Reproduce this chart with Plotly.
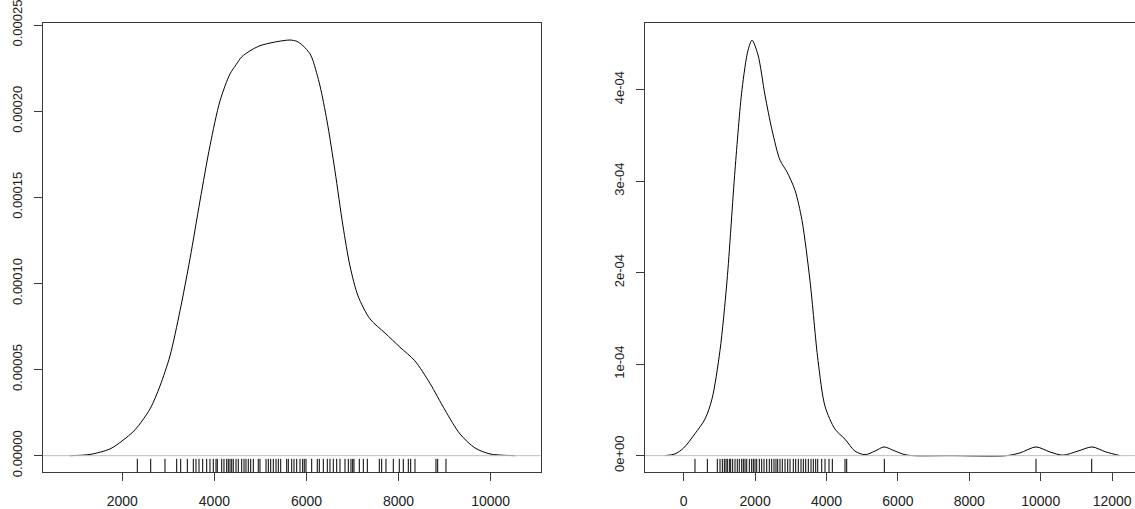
import plotly.graph_objects as go

# ---------------- data ----------------
# Left panel: density curve (x, density) and rug observations
left_x = [864, 1299, 1733, 1993, 2276, 2602, 2819, 3036, 3253, 3470, 3687, 3905, 4122,
          4339, 4469, 4593, 4773, 4990, 5272, 5489, 5641, 5793, 5924, 6076, 6141, 6293,
          6445, 6618, 6792, 6944, 7118, 7378, 7704, 8029, 8355, 8681, 9007, 9333, 9658,
          9984, 10527]
left_y = [0.0, 0.0000007, 0.0000039, 0.0000085, 0.0000150, 0.0000271, 0.0000405, 0.0000580,
          0.0000841, 0.0001143, 0.0001479, 0.000180, 0.000206, 0.0002216, 0.0002269,
          0.0002315, 0.000235, 0.000238, 0.0002399, 0.0002409, 0.0002413, 0.0002405,
          0.000238, 0.0002333, 0.0002293, 0.0002147, 0.0001944, 0.0001654, 0.0001334,
          0.0001102, 0.0000928, 0.0000794, 0.0000712, 0.0000630, 0.0000550, 0.0000420,
          0.0000265, 0.0000126, 0.0000045, 0.0000010, 0.0]
left_rug = [2326, 2617, 2927, 3181, 3268, 3412, 3542, 3600, 3666, 3746, 3833, 3904, 3976,
            4035, 4063, 4159, 4208, 4267, 4302, 4339, 4376, 4410, 4469, 4519, 4593, 4643,
            4686, 4736, 4788, 4845, 4953, 4990, 5121, 5171, 5223, 5279, 5338, 5388, 5440,
            5570, 5605, 5679, 5729, 5787, 5859, 5917, 5952, 5989, 6113, 6234, 6278, 6365,
            6452, 6510, 6582, 6656, 6727, 6836, 6908, 6966, 7003, 7031, 7147, 7234, 7321,
            7581, 7633, 7726, 7885, 8015, 8102, 8211, 8263, 8356, 8812, 8849, 9029]

# Right panel
right_x = [-524, -244, 0, 316, 597, 793, 1017, 1213, 1437, 1633, 1801, 1913, 2081, 2277,
           2473, 2697, 2894, 3118, 3314, 3538, 3762, 3958, 4238, 4518, 4798, 5078, 5358,
           5610, 5919, 6199, 6423, 7500, 9042, 9420, 9868, 10260, 10625, 11045, 11437,
           11830, 12222]
right_y = [0.0, 0.019e-4, 0.084e-4, 0.24e-4, 0.40e-4, 0.62e-4, 1.15e-4, 1.91e-4, 3.12e-4,
           4.00e-4, 4.43e-4, 4.54e-4, 4.38e-4, 3.94e-4, 3.56e-4, 3.23e-4, 3.10e-4, 2.90e-4,
           2.57e-4, 1.91e-4, 1.04e-4, 0.54e-4, 0.29e-4, 0.18e-4, 0.05e-4, 0.01e-4, 0.05e-4,
           0.095e-4, 0.05e-4, 0.01e-4, 0.0, 0.0, 0.0, 0.03e-4, 0.095e-4, 0.04e-4, 0.005e-4,
           0.05e-4, 0.095e-4, 0.04e-4, 0.0]
right_rug = [316, 662, 941, 1017, 1082, 1138, 1185, 1222, 1278, 1316, 1372, 1437, 1501,
             1557, 1625, 1670, 1717, 1765, 1838, 1904, 1950, 1997, 2045, 2118, 2185, 2250,
             2325, 2398, 2465, 2529, 2585, 2633, 2697, 2762, 2838, 2913, 2978, 3070, 3137,
             3210, 3286, 3350, 3417, 3490, 3566, 3630, 3697, 3754, 3866, 3958, 4070, 4163,
             4518, 4566, 5620, 9868, 11428]

left_xticks = [2000, 4000, 6000, 8000, 10000]
left_yticks = [0.0, 0.00005, 0.00010, 0.00015, 0.00020, 0.00025]
left_yticktext = ["0.00000", "0.00005", "0.00010", "0.00015", "0.00020", "0.00025"]
right_xticks = [0, 2000, 4000, 6000, 8000, 10000, 12000]
right_yticks = [0.0, 1e-4, 2e-4, 3e-4, 4e-4]
right_yticktext = ["0e+00", "1e-04", "2e-04", "3e-04", "4e-04"]

# ---------------- figure ----------------
W, H = 1135, 509
XFONT = dict(family="Liberation Sans, Arial, sans-serif", size=14, color="#222222")
YFONT = dict(family="Liberation Sans, Arial, sans-serif", size=13, color="#222222")
AX = "#3a3a3a"
CURVE = dict(color="black", width=1, shape="spline", smoothing=0.8)

fig = go.Figure()
fig.add_trace(go.Scatter(x=left_x, y=left_y, mode="lines", line=CURVE,
                         xaxis="x", yaxis="y", hoverinfo="skip"))
fig.add_trace(go.Scatter(x=right_x, y=right_y, mode="lines", line=CURVE,
                         xaxis="x2", yaxis="y2", hoverinfo="skip"))

shapes = []
# zero reference lines (gray, drawn over the curves)
shapes.append(dict(type="line", xref="x domain", yref="y", x0=0, x1=1, y0=0, y1=0,
                   line=dict(color="#bebebe", width=1)))
shapes.append(dict(type="line", xref="x2 domain", yref="y2", x0=0, x1=1, y0=0, y1=0,
                   line=dict(color="#bebebe", width=1)))
# rugs
for v in left_rug:
    shapes.append(dict(type="line", xref="x", yref="y domain", x0=v, x1=v, y0=0, y1=0.03,
                       line=dict(color="black", width=1)))
for v in right_rug:
    shapes.append(dict(type="line", xref="x2", yref="y2 domain", x0=v, x1=v, y0=0, y1=0.03,
                       line=dict(color="black", width=1)))

common_x = dict(showgrid=False, zeroline=False, showline=True, mirror=True, linecolor=AX, linewidth=1,
                ticks="outside", ticklen=8, tickcolor=AX, tickwidth=1, tickfont=XFONT,
                ticklabelstandoff=8, ticklabeloverflow="allow", automargin=False)
common_y = dict(showgrid=False, zeroline=False, showline=True, linecolor=AX, linewidth=1,
                ticks="outside", ticklen=8, tickcolor=AX, tickwidth=1, tickfont=YFONT,
                tickangle=-90, ticklabelstandoff=7, ticklabeloverflow="allow", automargin=False)

ydom = [(509 - 472.3) / H, (509 - 23.3) / H]

fig.update_layout(
    width=W, height=H,
    margin=dict(l=0, r=0, t=0, b=0, pad=0, autoexpand=False),
    paper_bgcolor="white", plot_bgcolor="white",
    showlegend=False,
    shapes=shapes,
    xaxis=dict(domain=[43 / W, 540.7 / W], range=[278, 11086], tickvals=left_xticks,
               ticktext=[str(t) for t in left_xticks], anchor="y", **common_x),
    yaxis=dict(domain=ydom, range=[-0.00000966, 0.000251], tickvals=left_yticks,
               ticktext=left_yticktext, anchor="x", mirror=True, **common_y),
    xaxis2=dict(domain=[645 / W, 1.0], range=[-1084, 12641], tickvals=right_xticks,
                ticktext=[str(t) for t in right_xticks], anchor="y2", **common_x),
    yaxis2=dict(domain=ydom, range=[-0.182e-4, 4.725e-4], tickvals=right_yticks,
                ticktext=right_yticktext, anchor="x2", mirror=False, **common_y),
)

fig.write_html("out.html")
